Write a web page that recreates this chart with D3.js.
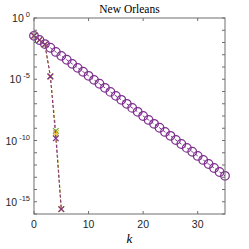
<!DOCTYPE html>
<html>
<head>
<meta charset="utf-8">
<script src="https://cdn.jsdelivr.net/npm/d3@7"></script>
<style>
  body { margin: 0; background: #fff; }
  svg { display: block; }
</style>
</head>
<body>
<div class="figure"></div>
<script>
let width = 249
let height = 249
let margin = {top: 18, right: 24, bottom: 35, left: 34}

// circle series, k = 0..35
let circleVals = [3.5e-2, 1.6e-2, 7.4e-3, 3.7e-3, 1.7e-3, 8.1e-4, 3.9e-4, 1.8e-4, 8.5e-5, 4.1e-5,
  1.9e-5, 8.9e-6, 4.3e-6, 2.0e-6, 9.3e-7, 4.4e-7, 2.1e-7, 9.8e-8, 4.6e-8, 2.2e-8,
  1.0e-8, 4.8e-9, 2.3e-9, 1.1e-9, 5.0e-10, 2.4e-10, 1.1e-10, 5.2e-11, 2.5e-11, 1.2e-11,
  5.5e-12, 2.6e-12, 1.2e-12, 5.7e-13, 2.7e-13, 1.3e-13]

// cross series, k = 0..5
let greenVals = [3.5e-2, 1.6e-2, 7.0e-3, 1.8e-5, 6.0e-10, 2.5e-16]
let yellowVals = [3.5e-2, 1.6e-2, 7.0e-3, 1.6e-5, 4.0e-10, 2.5e-16]
let purpleVals = [3.5e-2, 1.6e-2, 7.0e-3, 1.7e-5, 1.5e-10, 2.5e-16]

let xTicks = [0, 10, 20, 30]
let yTickExps = d3.range(-16, 1)
let yLabelExps = [0, -5, -10, -15]

const purple = "#7E2F8E"
const green = "#77AC30"
const yellow = "#EDB120"
const axisColor = "#6e6e6e"

const x = d3.scaleLinear().domain([0, 35]).range([margin.left, width - margin.right])
const y = d3.scaleLog().domain([1e-16, 1]).range([height - margin.bottom, margin.top])

const svg = d3.select(".figure").append("svg")
    .attr("width", width)
    .attr("height", height)

const plot = svg.append("g")

function drawSeries(vals, color, marker) {
    let pts = vals.map((v, i) => [i, v])
    plot.append("path")
        .datum(pts)
        .attr("fill", "none")
        .attr("stroke", color)
        .attr("stroke-width", 1)
        .attr("stroke-dasharray", "3,2")
        .attr("d", d3.line().x(d => x(d[0])).y(d => y(d[1])))
    if (marker === "o") {
        plot.append("g").selectAll("circle")
            .data(pts)
            .join("circle")
            .attr("cx", d => x(d[0]))
            .attr("cy", d => y(d[1]))
            .attr("r", 4.3)
            .attr("fill", "none")
            .attr("stroke", color)
            .attr("stroke-width", 1.25)
    } else {
        plot.append("g").selectAll("path")
            .data(pts)
            .join("path")
            .attr("d", d => {
                let cx = x(d[0]), cy = y(d[1]), s = 2.8
                return `M${cx - s},${cy - s}L${cx + s},${cy + s}M${cx - s},${cy + s}L${cx + s},${cy - s}`
            })
            .attr("stroke", color)
            .attr("stroke-width", 1.2)
    }
}

drawSeries(circleVals, purple, "o")
drawSeries(greenVals, green, "x")
drawSeries(yellowVals, yellow, "x")
drawSeries(purpleVals, purple, "x")

// box
let x0 = margin.left, x1 = width - margin.right
let y0 = margin.top, y1 = height - margin.bottom
svg.append("rect")
    .attr("x", x0).attr("y", y0)
    .attr("width", x1 - x0).attr("height", y1 - y0)
    .attr("fill", "none")
    .attr("stroke", axisColor)
    .attr("stroke-width", 1)

const tickLen = 3

// x ticks, bottom and top, pointing in
xTicks.forEach(t => {
    svg.append("line").attr("x1", x(t)).attr("x2", x(t)).attr("y1", y1).attr("y2", y1 - tickLen)
        .attr("stroke", axisColor)
    svg.append("line").attr("x1", x(t)).attr("x2", x(t)).attr("y1", y0).attr("y2", y0 + tickLen)
        .attr("stroke", axisColor)
    svg.append("text")
        .attr("x", x(t)).attr("y", y1 + 14)
        .attr("text-anchor", "middle")
        .attr("font-family", "Liberation Sans, Arial, sans-serif")
        .attr("font-size", 10.5)
        .attr("fill", "#262626")
        .text(t)
})

// y ticks, left and right
yTickExps.forEach(e => {
    let yy = y(Math.pow(10, e))
    svg.append("line").attr("x1", x0).attr("x2", x0 + tickLen).attr("y1", yy).attr("y2", yy)
        .attr("stroke", axisColor)
    svg.append("line").attr("x1", x1).attr("x2", x1 - tickLen).attr("y1", yy).attr("y2", yy)
        .attr("stroke", axisColor)
})

yLabelExps.forEach(e => {
    let yy = y(Math.pow(10, e))
    let t = svg.append("text")
        .attr("x", x0 - 4).attr("y", yy + 4)
        .attr("text-anchor", "end")
        .attr("font-family", "Liberation Sans, Arial, sans-serif")
        .attr("font-size", 10.5)
        .attr("fill", "#262626")
    t.append("tspan").text("10")
    t.append("tspan").attr("dy", -5).attr("font-size", 7.5).text(e === 0 ? " 0" : " -" + (-e))
})

// title
svg.append("text")
    .attr("x", (x0 + x1) / 2).attr("y", 13)
    .attr("text-anchor", "middle")
    .attr("font-family", "Liberation Serif, Times New Roman, serif")
    .attr("font-size", 11.5)
    .attr("fill", "#000")
    .text("New Orleans")

// x label
svg.append("text")
    .attr("x", (x0 + x1) / 2).attr("y", 243)
    .attr("text-anchor", "middle")
    .attr("font-family", "Liberation Serif, Times New Roman, serif")
    .attr("font-style", "italic")
    .attr("font-size", 13)
    .attr("fill", "#000")
    .text("k")
</script>
</body>
</html>
